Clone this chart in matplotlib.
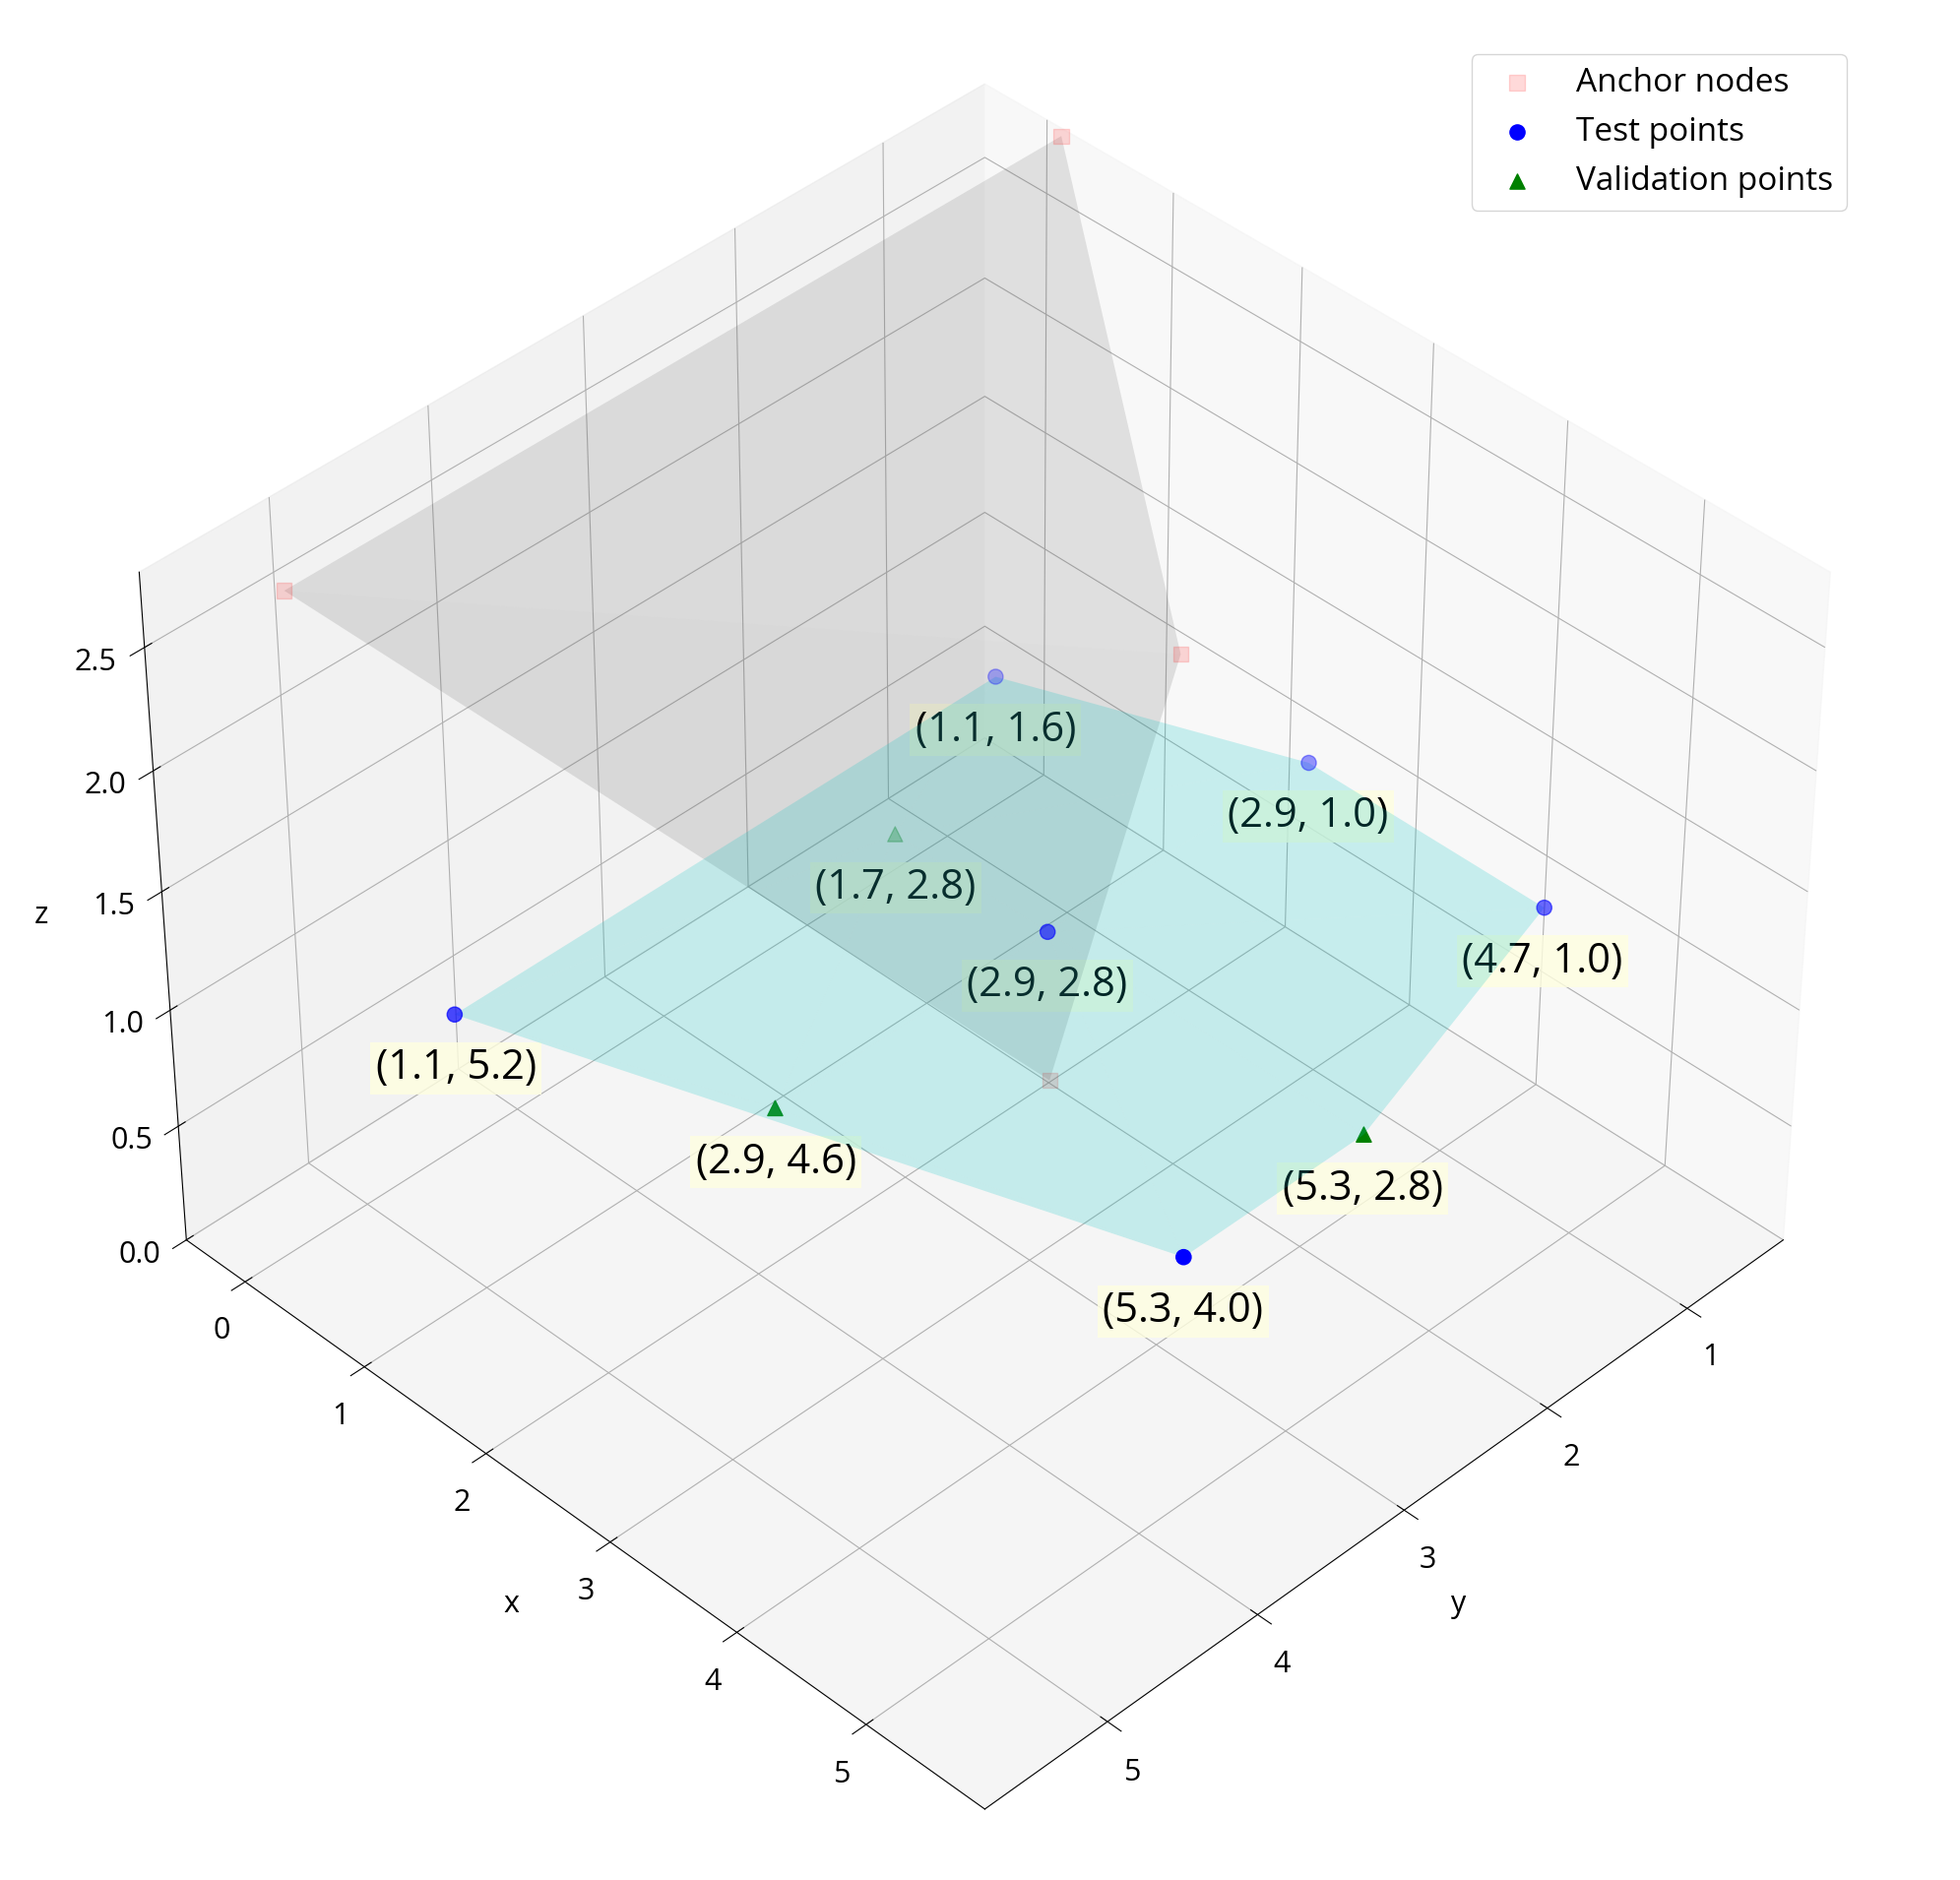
import matplotlib
matplotlib.use('Agg')
import matplotlib.pyplot as plt

plt.rcParams['font.family'] = ['Open Sans', 'DejaVu Sans']

anchor_x = [0.0, 0.0, 2.0, 2.75]
anchor_y = [0.2, 5.3, 1.1, 2.65]
anchor_z = [2.7, 2.7, 1.5, 0.55]

test_x = [1.1, 2.9, 4.7, 2.9, 1.1, 5.3]
test_y = [1.6, 1.0, 1.0, 2.8, 5.2, 4.0]
val_x = [1.7, 2.9, 5.3]
val_y = [2.8, 4.6, 2.8]
surf_z = 1.3

fig = plt.figure(figsize=(19.91, 19.10), dpi=100)
ax = fig.add_subplot(111, projection='3d')

# view is mirrored: data x goes on the axis shown at left, data y on the right
ax.plot_trisurf(anchor_y, anchor_x, anchor_z, color='gray', alpha=0.15)
all_x = test_x + val_x
all_y = test_y + val_y
ax.plot_trisurf(all_y, all_x, [surf_z] * len(all_x), color='cyan', alpha=0.2)

ax.scatter(anchor_y, anchor_x, anchor_z, c='red', marker='s', s=120, alpha=0.15, label='Anchor nodes')
ax.scatter(test_y, test_x, [surf_z] * len(test_x), c='blue', marker='o', s=120, label='Test points')
ax.scatter(val_y, val_x, [surf_z] * len(val_x), c='green', marker='^', s=120, label='Validation points')

for px, py in zip(all_x, all_y):
    ax.text(py, px, surf_z - 0.14, f'({px}, {py})', fontsize=30, ha='center', va='top',
            bbox=dict(facecolor='lightyellow', edgecolor='none', alpha=0.8))

ax.set_xlim(0.3, 5.8)
ax.set_ylim(-0.5, 5.9)
ax.set_zlim(0, 2.8)
ax.set_xlabel('y', fontsize=22, labelpad=30)
ax.set_ylabel('x', fontsize=22, labelpad=30)
ax.set_zlabel('z', fontsize=22, labelpad=30)
ax.tick_params(labelsize=22, pad=12)
ax.view_init(elev=40, azim=45)
ax.legend(fontsize=24, loc='upper right')
plt.subplots_adjust(left=0.0, right=0.98, bottom=0.02, top=0.98)
plt.savefig('out.png', dpi=100)
